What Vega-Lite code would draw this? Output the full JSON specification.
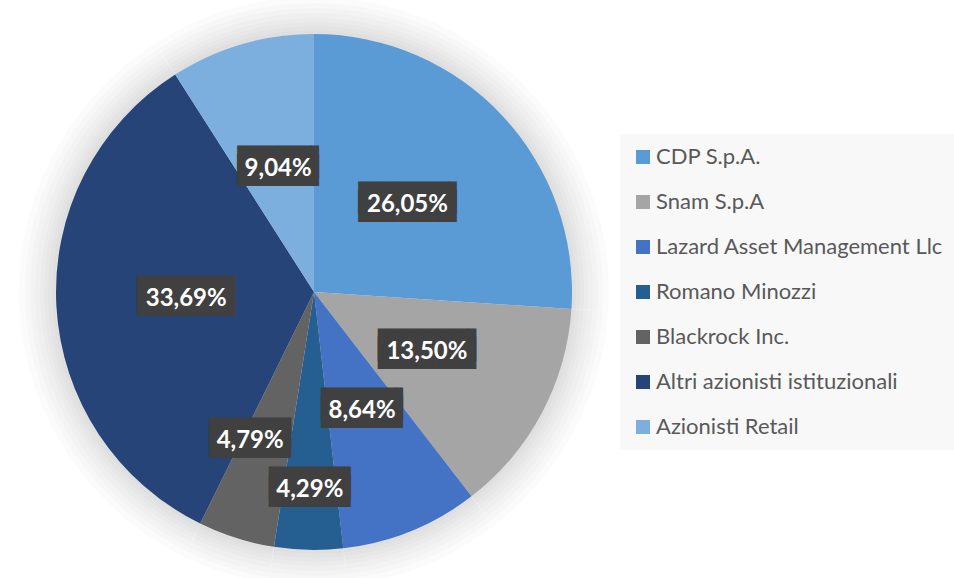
{
  "$schema": "https://vega.github.io/schema/vega-lite/v6.json",
  "width": 628,
  "height": 584,
  "autosize": {"type": "none"},
  "padding": {"left": 0, "top": 0, "right": 326, "bottom": 0},
  "background": "#ffffff",
  "config": {
    "view": {"stroke": null},
    "locale": {"number": {"decimal": ",", "thousands": ".", "grouping": [3], "currency": ["€", ""]}},
    "legend": {
      "orient": "none",
      "legendX": 620,
      "legendY": 134,
      "fillColor": "#F8F8F8",
      "padding": 12,
      "symbolType": "square",
      "symbolSize": 196,
      "symbolStrokeWidth": 0,
      "labelFont": "Lato",
      "labelFontSize": 22,
      "labelColor": "#595959",
      "labelOffset": 2,
      "labelLimit": 400,
      "rowPadding": 23,
      "title": null
    }
  },
  "data": {
    "values": [
      {"name": "CDP S.p.A.", "share": 0.2605, "ord": 1},
      {"name": "Snam S.p.A", "share": 0.1350, "ord": 2},
      {"name": "Lazard Asset Management Llc", "share": 0.0864, "ord": 3},
      {"name": "Romano Minozzi", "share": 0.0429, "ord": 4},
      {"name": "Blackrock Inc.", "share": 0.0479, "ord": 5},
      {"name": "Altri azionisti istituzionali", "share": 0.3369, "ord": 6},
      {"name": "Azionisti Retail", "share": 0.0904, "ord": 7}
    ]
  },
  "encoding": {
    "theta": {"field": "share", "type": "quantitative", "stack": true},
    "order": {"field": "ord", "type": "quantitative"}
  },
  "layer": [
    {"mark": {"type": "arc", "radius": 295, "color": "#000000", "opacity": 0.015}},
    {"mark": {"type": "arc", "radius": 289, "color": "#000000", "opacity": 0.015}},
    {"mark": {"type": "arc", "radius": 284, "color": "#000000", "opacity": 0.015}},
    {"mark": {"type": "arc", "radius": 279, "color": "#000000", "opacity": 0.015}},
    {"mark": {"type": "arc", "radius": 274, "color": "#000000", "opacity": 0.015}},
    {"mark": {"type": "arc", "radius": 270, "color": "#000000", "opacity": 0.015}},
    {"mark": {"type": "arc", "radius": 266, "color": "#000000", "opacity": 0.015}},
    {"mark": {"type": "arc", "radius": 262, "color": "#000000", "opacity": 0.015}},
    {
      "mark": {"type": "arc", "radius": 258},
      "encoding": {
        "color": {
          "field": "name",
          "type": "nominal",
          "scale": {
            "domain": ["CDP S.p.A.", "Snam S.p.A", "Lazard Asset Management Llc", "Romano Minozzi", "Blackrock Inc.", "Altri azionisti istituzionali", "Azionisti Retail"],
            "range": ["#5B9BD5", "#A5A5A5", "#4472C4", "#255E91", "#636363", "#264478", "#7CAFDD"]
          },
          "legend": {"title": null}
        }
      }
    },
    {
      "mark": {"type": "text", "radius": 128, "dy": -6, "font": "DejaVu Sans Mono", "fontSize": 27.4, "lineHeight": 8, "baseline": "middle", "align": "center", "color": "#404040"},
      "encoding": {
        "text": {"condition": {"test": "datum.share >= 0.1", "value": ["▐█████▌", "▐█████▌"]}, "value": ["▐████▌", "▐████▌"]},
        "opacity": {"condition": {"test": "datum.ord === 4 || datum.ord === 5", "value": 0}, "value": 1}
      }
    },
    {
      "mark": {"type": "text", "radius": 128, "font": "Lato", "fontWeight": "bold", "fontSize": 24, "baseline": "middle", "align": "center", "color": "#ffffff"},
      "encoding": {
        "text": {"field": "share", "type": "quantitative", "format": ".2%"},
        "opacity": {"condition": {"test": "datum.ord === 4 || datum.ord === 5", "value": 0}, "value": 1}
      }
    },
    {
      "mark": {"type": "text", "radius": 198, "dy": -6, "font": "DejaVu Sans Mono", "fontSize": 27.4, "lineHeight": 8, "baseline": "middle", "align": "center", "color": "#404040"},
      "encoding": {
        "text": {"value": ["▐████▌", "▐████▌"]},
        "opacity": {"condition": {"test": "datum.ord === 4", "value": 1}, "value": 0}
      }
    },
    {
      "mark": {"type": "text", "radius": 198, "font": "Lato", "fontWeight": "bold", "fontSize": 24, "baseline": "middle", "align": "center", "color": "#ffffff"},
      "encoding": {
        "text": {"field": "share", "type": "quantitative", "format": ".2%"},
        "opacity": {"condition": {"test": "datum.ord === 4", "value": 1}, "value": 0}
      }
    },
    {
      "mark": {"type": "text", "radius": 162, "dx": -15, "dy": -11, "font": "DejaVu Sans Mono", "fontSize": 27.4, "lineHeight": 8, "baseline": "middle", "align": "center", "color": "#404040"},
      "encoding": {
        "text": {"value": ["▐████▌", "▐████▌"]},
        "opacity": {"condition": {"test": "datum.ord === 5", "value": 1}, "value": 0}
      }
    },
    {
      "mark": {"type": "text", "radius": 162, "dx": -15, "dy": -5, "font": "Lato", "fontWeight": "bold", "fontSize": 24, "baseline": "middle", "align": "center", "color": "#ffffff"},
      "encoding": {
        "text": {"field": "share", "type": "quantitative", "format": ".2%"},
        "opacity": {"condition": {"test": "datum.ord === 5", "value": 1}, "value": 0}
      }
    }
  ]
}
